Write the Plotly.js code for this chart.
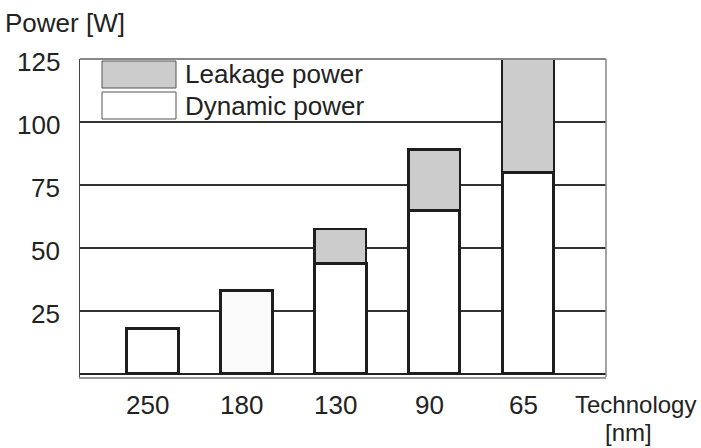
<!DOCTYPE html>
<html><head><meta charset="utf-8">
<script src="https://cdn.plot.ly/plotly-3.0.1.min.js"></script>
<style>html,body{margin:0;padding:0;background:#fff}#chart{width:701px;height:448px}</style>
</head><body><div id="chart"></div>
<script>
const technology = ['250', '180', '130', '90', '65'];
const dynamicPower = [18, 33, 44, 65, 80];
const leakagePower = [null, null, 13.5, 24, 45];
const yTicks = [25, 50, 75, 100, 125];

const W = 701, H = 448, L = 80, R = 95, T = 59, B = 71;
const pw = W - L - R, ph = H - T - B;
const px = x => (x - L) / pw;
const py = y => (H - B - y) / ph;
const font = {family: 'Liberation Sans, Arial, sans-serif', size: 26, color: '#222'};
const font2 = {family: 'Liberation Sans, Arial, sans-serif', size: 24, color: '#222'};

const data = [
  {type: 'bar', x: technology, y: dynamicPower, name: 'Dynamic power', width: 0.55,
   marker: {color: ['#ffffff', '#fafafa', '#ffffff', '#ffffff', '#ffffff'], line: {color: '#1e1e1e', width: 3}}},
  {type: 'bar', x: technology, y: leakagePower, name: 'Leakage power', width: 0.55,
   marker: {color: '#cccccc', line: {color: '#1e1e1e', width: 2.5}}}
];

const annotations = [
  {xref: 'paper', yref: 'paper', x: px(183), y: py(74), xanchor: 'left', yanchor: 'middle', text: 'Leakage power', showarrow: false, font: font},
  {xref: 'paper', yref: 'paper', x: px(183), y: py(106), xanchor: 'left', yanchor: 'middle', text: 'Dynamic power', showarrow: false, font: font},
  {xref: 'paper', yref: 'paper', x: px(3), y: py(23), xanchor: 'left', yanchor: 'middle', text: 'Power [W]', showarrow: false, font: font},
  {xref: 'paper', yref: 'paper', x: px(635), y: py(404), xanchor: 'center', yanchor: 'middle', text: 'Technology', showarrow: false, font: font2, borderpad: 0},
  {xref: 'paper', yref: 'paper', x: px(628), y: py(447), xanchor: 'center', yanchor: 'bottom', text: '[nm]', showarrow: false, font: font2, borderpad: 0}
];
technology.forEach((t, i) => annotations.push({xref: 'x', yref: 'paper', x: i, y: py(405), xshift: -5,
  xanchor: 'center', yanchor: 'middle', text: t, showarrow: false, font: font}));
yTicks.forEach(v => annotations.push({xref: 'paper', yref: 'y', x: px(62), y: v, yshift: -3,
  xanchor: 'right', yanchor: 'middle', text: String(v), showarrow: false, font: font}));

const layout = {
  width: W, height: H, margin: {l: L, r: R, t: T, b: B},
  paper_bgcolor: '#fff', plot_bgcolor: '#fff', showlegend: false, barmode: 'stack',
  font: font,
  xaxis: {type: 'category', range: [-0.77, 4.83], showgrid: false, zeroline: false,
    showline: true, linecolor: '#999', linewidth: 1.5, showticklabels: false},
  yaxis: {range: [-1.2, 125], tickvals: yTicks, showgrid: true, gridcolor: '#333', gridwidth: 1.5,
    zeroline: true, zerolinecolor: '#222', zerolinewidth: 2,
    showline: true, linecolor: '#444', linewidth: 1.5, showticklabels: false},
  shapes: [
    {type: 'line', xref: 'paper', yref: 'paper', x0: 1, x1: 1, y0: 0, y1: 1, line: {color: '#888', width: 1.5}},
    {type: 'line', xref: 'paper', yref: 'paper', x0: 0, x1: 1, y0: 1, y1: 1, line: {color: '#888', width: 2}},
    {type: 'rect', xref: 'paper', yref: 'paper', x0: px(102), x1: px(176), y0: py(88), y1: py(61), fillcolor: '#cccccc', line: {color: '#555', width: 1}},
    {type: 'rect', xref: 'paper', yref: 'paper', x0: px(102), x1: px(176), y0: py(119), y1: py(92), fillcolor: '#ffffff', line: {color: '#555', width: 1}}
  ],
  annotations: annotations
};
Plotly.newPlot('chart', data, layout, {displayModeBar: false, staticPlot: true});
</script></body></html>
